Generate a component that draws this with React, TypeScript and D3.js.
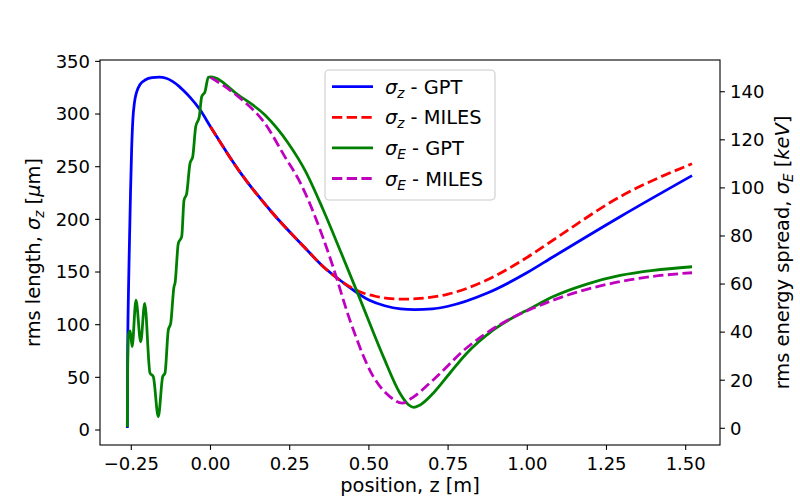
import React, { useEffect } from "react";
import * as d3 from "d3";

// ---- data ----
const sigmaZGpt: [number, number][] = [
  [-0.2625, 2], [-0.2615, 70], [-0.259, 130], [-0.2563, 171], [-0.2525, 225], [-0.249, 266],
  [-0.245, 295], [-0.24, 311], [-0.233, 321], [-0.2225, 328], [-0.205, 332.5], [-0.185, 334.5],
  [-0.162, 335], [-0.14, 334], [-0.12, 331], [-0.1, 326.5], [-0.086, 322.5], [-0.065, 316],
  [-0.033, 304], [0, 288], [0.088, 247], [0.193, 207], [0.298, 173], [0.351, 156.5],
  [0.419, 140], [0.5, 123.5], [0.55, 118], [0.6, 115], [0.645, 114.3], [0.7, 115],
  [0.75, 117.5], [0.872, 129.8], [1.0, 149.5], [1.082, 164.5], [1.293, 202.5], [1.52, 241.5],
];
const sigmaZMiles: [number, number][] = [
  [0, 288], [0.088, 247], [0.193, 207], [0.298, 173], [0.351, 156.5], [0.419, 140],
  [0.47, 131.5], [0.52, 127], [0.57, 124.7], [0.615, 124.2], [0.661, 124.9], [0.75, 129],
  [0.872, 142.4], [1.0, 164], [1.082, 180.4], [1.293, 221.5], [1.52, 252.8],
];
const sigmaEGpt: [number, number][] = [
  [-0.2625, 0.5], [-0.2615, 25], [-0.2585, 39.5], [-0.2535, 40.5], [-0.2475, 34],
  [-0.2352, 53.3], [-0.2203, 36], [-0.2077, 52], [-0.191, 23], [-0.1806, 21.5],
  [-0.1648, 4.8], [-0.1509, 21.5], [-0.1436, 23], [-0.1332, 40.9], [-0.1256, 43.7],
  [-0.1152, 58.9], [-0.112, 60.3], [-0.1016, 76.9], [-0.0909, 79.7], [-0.0836, 94.9],
  [-0.0751, 97.7], [-0.0647, 110.2], [-0.0562, 112.9], [-0.0467, 125.4], [-0.0354, 129.6],
  [-0.0278, 137.9], [-0.0174, 140], [-0.0069, 146], [0, 146.2], [0.088, 138.6],
  [0.172, 130.3], [0.246, 118.5], [0.298, 107.4], [0.356, 90.8], [0.413, 72.8],
  [0.467, 55.4], [0.5455, 29.8], [0.598, 14.6], [0.625, 9.8], [0.642, 8.7], [0.66, 9.6],
  [0.703, 14.6], [0.756, 23], [0.809, 31.2], [0.893, 40.9], [1.019, 50.5], [1.082, 54.8],
  [1.188, 60], [1.293, 63.6], [1.398, 65.7], [1.52, 67.2],
];
const sigmaEMiles: [number, number][] = [
  [0, 146], [0.088, 137.9], [0.172, 126.8], [0.235, 112.9], [0.28, 103], [0.356, 79],
  [0.386, 67.5], [0.44, 45], [0.514, 21.5], [0.567, 13.1], [0.605, 10.5], [0.64, 13],
  [0.703, 20.1], [0.809, 33.5], [0.914, 43.2], [1.019, 50], [1.082, 53.3], [1.188, 57.8],
  [1.293, 61], [1.398, 63.2], [1.52, 64.7],
];

const xTicks = [-0.25, 0, 0.25, 0.5, 0.75, 1.0, 1.25, 1.5];
const leftTicks = [0, 50, 100, 150, 200, 250, 300, 350];
const rightTicks = [0, 20, 40, 60, 80, 100, 120, 140];

const legendItems = [
  { sym: "σ", sub: "z", label: " - GPT", color: "#0000ff", dash: "" },
  { sym: "σ", sub: "z", label: " - MILES", color: "#ff0000", dash: "10.3,4.4" },
  { sym: "σ", sub: "E", label: " - GPT", color: "#008000", dash: "" },
  { sym: "σ", sub: "E", label: " - MILES", color: "#bf00bf", dash: "10.3,4.4" },
];

const FONT = "DejaVu Sans, sans-serif";

export default function App() {
  useEffect(() => {
    document.body.style.margin = "0";
  }, []);

  const W = 800, H = 500;
  const L = 100, R = 720, T = 60, B = 445;

  const x = d3.scaleLinear().domain([-0.3488, 1.6083]).range([L, R]);
  const yL = d3.scaleLinear().domain([-14.24, 351.3]).range([B, T]);
  const yR = d3.scaleLinear().domain([-6.95, 153.2]).range([B, T]);

  const lineL = d3.line<[number, number]>().x(d => x(d[0])).y(d => yL(d[1])).curve(d3.curveMonotoneX);
  const lineR = d3.line<[number, number]>().x(d => x(d[0])).y(d => yR(d[1])).curve(d3.curveMonotoneX);

  const fmtX = (v: number) => d3.format(".2f")(v).replace("-", "\u2212");
  const lw = 2.78;

  return (
    <svg width={W} height={H} style={{ display: "block" }} fontFamily={FONT}>
      <rect width={W} height={H} fill="#ffffff" />
      <defs>
        <clipPath id="plotclip">
          <rect x={L} y={T} width={R - L} height={B - T} />
        </clipPath>
      </defs>
      <g clipPath="url(#plotclip)" fill="none" strokeLinejoin="round">
        <path d={lineL(sigmaZGpt) || ""} stroke="#0000ff" strokeWidth={lw} />
        <path d={lineL(sigmaZMiles) || ""} stroke="#ff0000" strokeWidth={lw} strokeDasharray="10.3,4.4" />
        <path d={lineR(sigmaEGpt) || ""} stroke="#008000" strokeWidth={lw} />
        <path d={lineR(sigmaEMiles) || ""} stroke="#bf00bf" strokeWidth={lw} strokeDasharray="10.3,4.4" />
      </g>
      {/* frame */}
      <rect x={L} y={T} width={R - L} height={B - T} fill="none" stroke="#000" strokeWidth={1.1} />
      {/* x ticks */}
      {xTicks.map(t => (
        <g key={"x" + t}>
          <line x1={x(t)} x2={x(t)} y1={B} y2={B + 4.9} stroke="#000" strokeWidth={1.1} />
          <text x={x(t)} y={B + 25} fontSize={18} textAnchor="middle" fill="#000">{fmtX(t)}</text>
        </g>
      ))}
      {leftTicks.map(t => (
        <g key={"l" + t}>
          <line x1={L - 4.9} x2={L} y1={yL(t)} y2={yL(t)} stroke="#000" strokeWidth={1.1} />
          <text x={L - 10} y={yL(t)} dy="0.35em" fontSize={18} textAnchor="end" fill="#000">{t}</text>
        </g>
      ))}
      {rightTicks.map(t => (
        <g key={"r" + t}>
          <line x1={R} x2={R + 4.9} y1={yR(t)} y2={yR(t)} stroke="#000" strokeWidth={1.1} />
          <text x={R + 10} y={yR(t)} dy="0.35em" fontSize={18} textAnchor="start" fill="#000">{t}</text>
        </g>
      ))}
      {/* axis labels */}
      <text x={(L + R) / 2} y={492} fontSize={19.4} textAnchor="middle" fill="#000">position, z [m]</text>
      <text transform={`translate(40,${(T + B) / 2}) rotate(-90)`} fontSize={19.4} textAnchor="middle" fill="#000">
        rms length, <tspan fontStyle="italic">σ</tspan>
        <tspan fontStyle="italic" fontSize={13.6} dy={4}>z</tspan>
        <tspan dy={-4}> [</tspan><tspan fontStyle="italic">μ</tspan>m]
      </text>
      <text transform={`translate(789,${(T + B) / 2}) rotate(-90)`} fontSize={19.4} textAnchor="middle" fill="#000">
        rms energy spread, <tspan fontStyle="italic">σ</tspan>
        <tspan fontStyle="italic" fontSize={13.6} dy={4}>E</tspan>
        <tspan dy={-4}> [</tspan><tspan fontStyle="italic">keV</tspan>]
      </text>
      {/* legend */}
      <g>
        <rect x={325} y={70} width={170} height={130} rx={4} fill="#ffffff" fillOpacity={0.8} stroke="#cccccc" strokeWidth={1.1} />
        {legendItems.map((it, i) => {
          const cy = 86.7 + i * 30.6;
          return (
            <g key={"lg" + i}>
              <line x1={332} x2={373} y1={cy} y2={cy} stroke={it.color} strokeWidth={lw} strokeDasharray={it.dash || undefined} />
              <text x={385} y={cy + 7} fontSize={19.4} fill="#000">
                <tspan fontStyle="italic">{it.sym}</tspan>
                <tspan fontStyle="italic" fontSize={13.6} dy={4}>{it.sub}</tspan>
                <tspan dy={-4}>{it.label}</tspan>
              </text>
            </g>
          );
        })}
      </g>
    </svg>
  );
}
